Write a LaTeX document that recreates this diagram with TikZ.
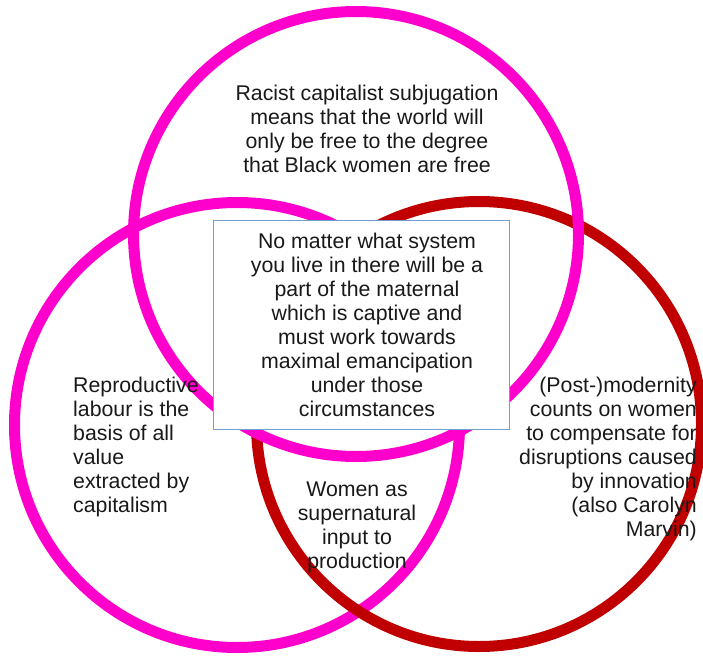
\documentclass[tikz,border=0pt]{standalone}
\usepackage{fontspec}
\setmainfont{Liberation Sans}
\usepackage{tikz}

\definecolor{ringpink}{HTML}{FF00CC}
\definecolor{ringred}{HTML}{C00000}
\definecolor{boxblue}{HTML}{729FCF}

\begin{document}
\begin{tikzpicture}[x=1pt, y=-1pt,
  ring/.style={draw, circle, line width=11pt, minimum size=445pt, inner sep=0pt},
  main text/.style={inner sep=0pt, font=\fontsize{21.3}{24}\selectfont, text=black!90},
  main box/.style={draw=boxblue, line width=0.9pt, fill=white, minimum width=296pt,
    minimum height=209pt, inner sep=0pt}]
\useasboundingbox (0,0) rectangle (703,655);

\node[ring, draw=ringpink] (left)  at (237,425) {};
\node[ring, draw=ringred]  (right) at (479,424) {};
\node[ring, draw=ringpink] (top)   at (356,234) {};

\node[main box] (box) at (361,324.5) {};
\node[main text, align=center, xshift=6pt] (maternal) at (box.center) {No matter what system\\you live in there will be a\\part of the maternal\\which is captive and\\must work towards\\maximal emancipation\\under those\\circumstances};

\node[main text, align=center]           (racist)   at (367,129) {Racist capitalist subjugation\\means that the world will\\only be free to the degree\\that Black women are free};
\node[main text, align=left, anchor=west] (labour)  at (73,446.5)  {Reproductive\\labour is the\\basis of all\\value\\extracted by\\capitalism};
\node[main text, align=right, anchor=east] (modern) at (697,459) {(Post-)modernity\\counts on women\\to compensate for\\disruptions caused\\by innovation\\(also Carolyn\\Marvin)};
\node[main text, align=center]           (input)    at (357,527) {Women as\\supernatural\\input to\\production};
\end{tikzpicture}
\end{document}
